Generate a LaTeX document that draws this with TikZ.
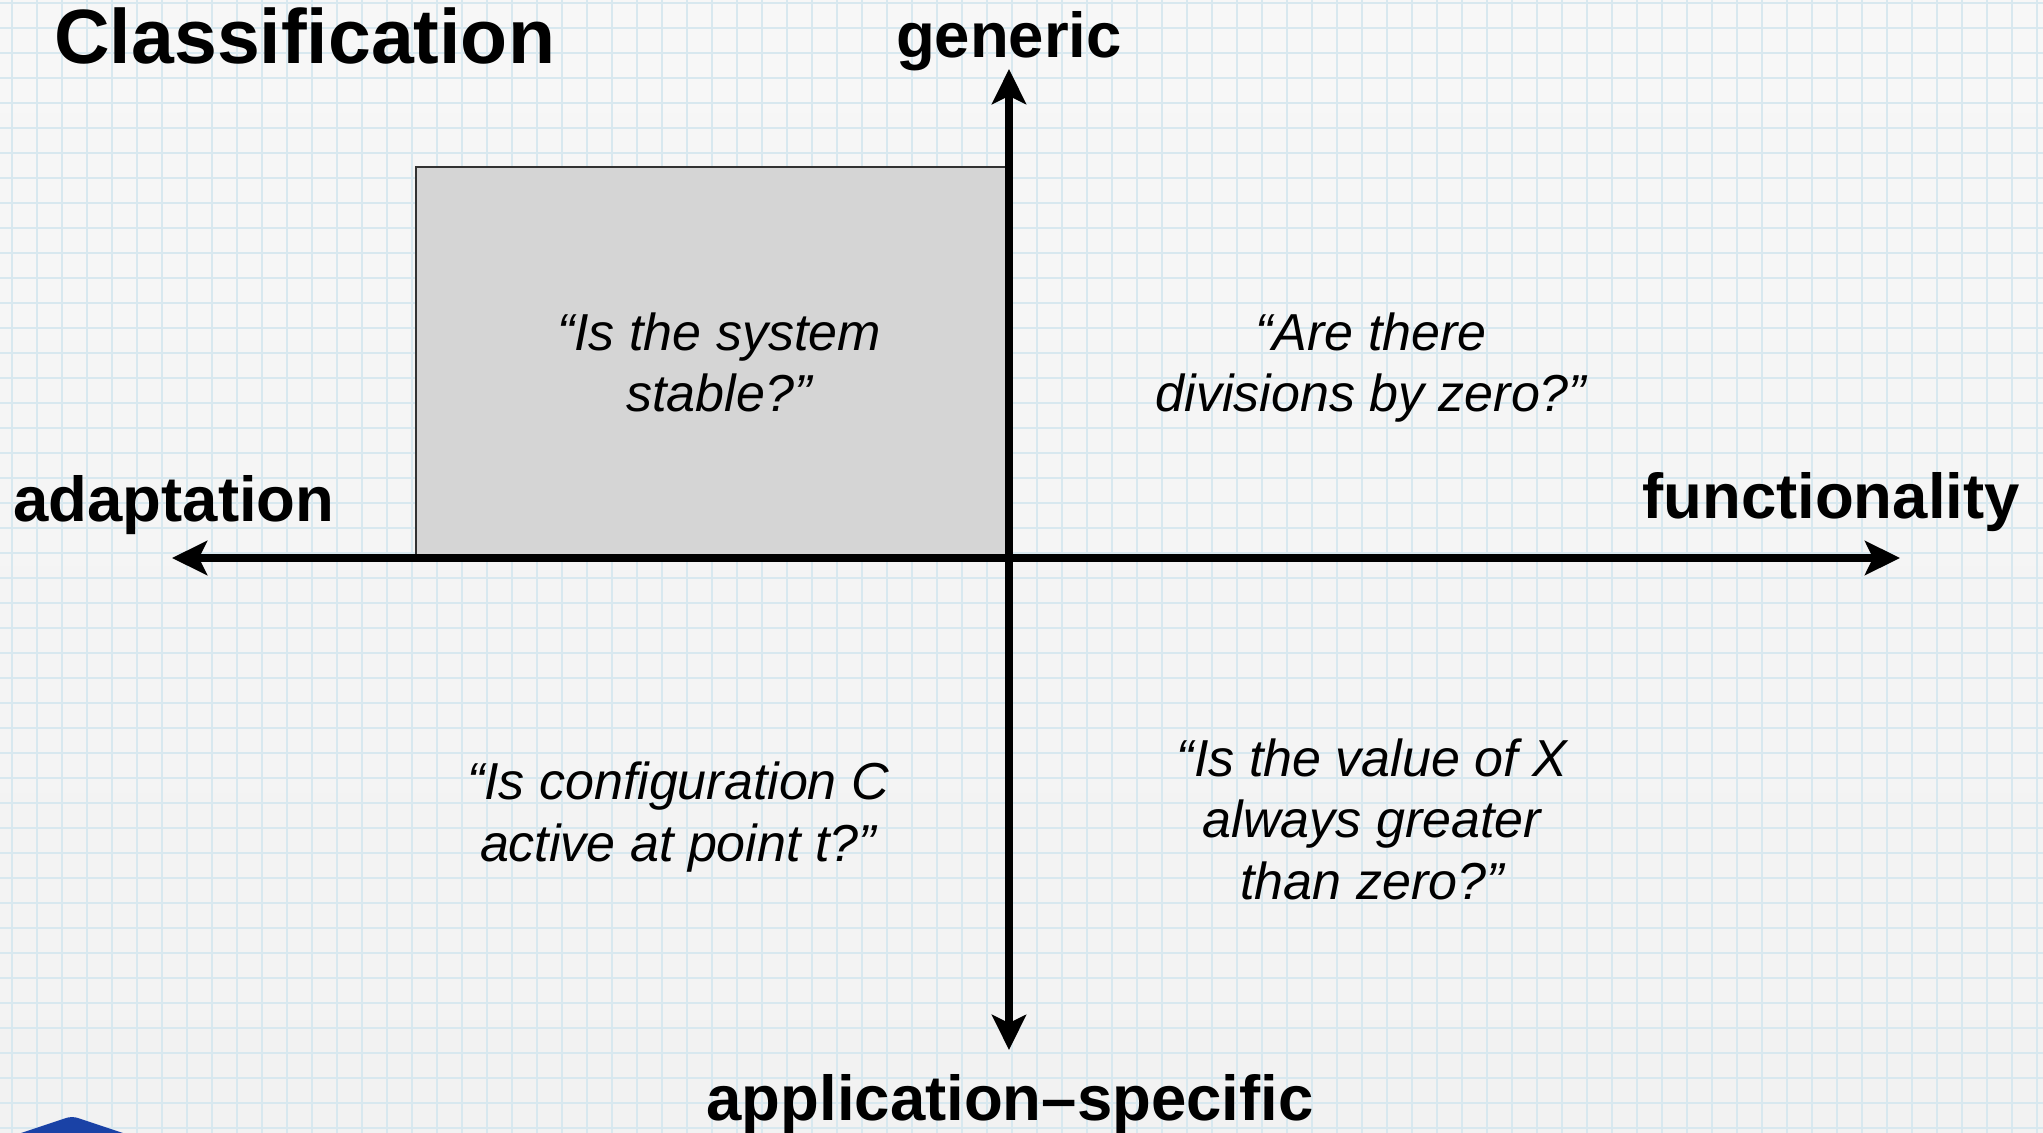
\documentclass[tikz,border=0pt]{standalone}
\usepackage{fontspec}
\setmainfont{Liberation Sans}
\usetikzlibrary{arrows.meta}

\definecolor{paper}{RGB}{242,242,242}
\definecolor{paperlight}{RGB}{247,247,247}
\definecolor{gridline}{RGB}{216,232,239}
\definecolor{boxfill}{RGB}{213,213,213}
\definecolor{boxedge}{RGB}{50,50,50}
\definecolor{logoblue}{RGB}{26,66,166}

\tikzset{
  axis/.style={line width=4pt, draw=black,
    arrows={Stealth[length=17.5pt, width=17pt, inset=4pt]-Stealth[length=17.5pt, width=17pt, inset=4pt]}},
  axislabel/.style={font=\fontsize{31.75}{36}\selectfont\bfseries, inner sep=0pt, anchor=base},
  % multi-line questions are anchored at the baseline of their last line
  question/.style={font=\fontsize{26}{30.75}\selectfont\itshape, inner sep=0pt, align=center, anchor=base},
  titletext/.style={font=\fontsize{38.5}{44}\selectfont\bfseries, inner sep=0pt, anchor=base west},
  quadrant/.style={fill=boxfill, draw=boxedge, line width=1pt},
}

\begin{document}
\begin{tikzpicture}[x=0.5pt, y=-0.5pt]
  % page frame and graph-paper background
  \clip (0,0) rectangle (2043,1133);
  \shade[top color=paperlight, bottom color=paper] (0,0) rectangle (2043,1133);
  \foreach \gx in {12,37,...,2043} \draw[gridline, line width=0.9pt] (\gx,0) -- (\gx,1133);
  \foreach \gy in {3,28,...,1133} \draw[gridline, line width=0.9pt] (0,\gy) -- (2043,\gy);

  % corner badge, only its tip is visible
  \fill[logoblue, rounded corners=3pt] (0,1140) -- (72,1116) -- (144,1140) -- cycle;

  % title
  \node[titletext] (title) at (54,64) {Classification};

  % highlighted quadrant: generic / adaptation
  \node[quadrant, minimum width=296pt, minimum height=195pt, inner sep=0pt, anchor=south east] (box) at (1009,558) {};

  % axes
  \coordinate (west) at (172,558);
  \coordinate (east) at (1900,558);
  \coordinate (north) at (1009,69);
  \coordinate (south) at (1009,1050);
  \draw[axis] (west) -- (east);
  \draw[axis] (south) -- (north);

  % axis labels
  \node[axislabel] (generic) at (1009,58) {generic};
  \node[axislabel] (specific) at (1010,1120) {application–specific};
  \node[axislabel] (adaptation) at (174,521) {adaptation};
  \node[axislabel] (functionality) at (1831,518) {functionality};

  % example questions, one per quadrant
  \node[question] (qstable) at (719,412) {“Is the system\\stable?”};
  \node[question] (qdiv) at (1371,412) {“Are there\\divisions by zero?”};
  \node[question] (qconf) at (678,861) {“Is configuration C\\active at point t?”};
  \node[question] (qvalue) at (1372,899) {“Is the value of X\\always greater\\than zero?”};
\end{tikzpicture}
\end{document}
